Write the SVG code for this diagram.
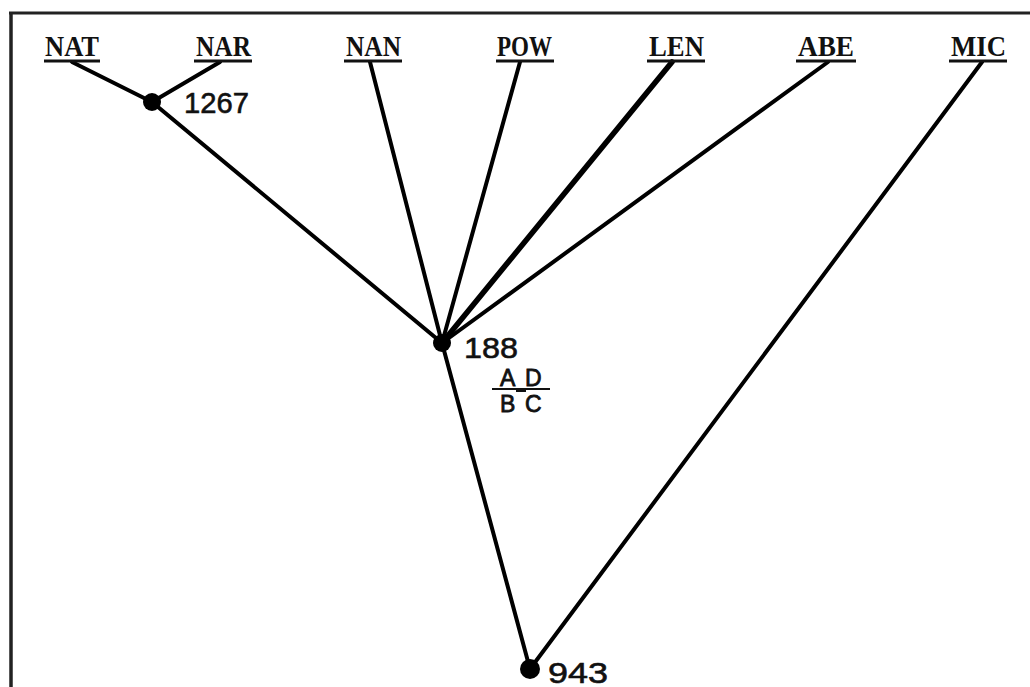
<svg xmlns="http://www.w3.org/2000/svg" width="1030" height="687" viewBox="0 0 1030 687">
<style>
.frame{stroke:#222;fill:none}
.edge{stroke:#000;stroke-width:4;stroke-linecap:round;fill:none}
.lbl{font-family:"Liberation Serif","Times New Roman",serif;font-weight:bold;font-size:30px;fill:#111}
.ul{stroke:#111;stroke-width:3}
.num{font-family:"Liberation Sans",Arial,sans-serif;font-size:30px;fill:#111;stroke:#111;stroke-width:0.6}
.let{font-family:"Liberation Sans",Arial,sans-serif;font-size:23px;fill:#111;stroke:#111;stroke-width:0.8}
.dot{fill:#000}
</style>
<rect width="1030" height="687" fill="#fff"/>
<g id="frame">
<line class="frame" x1="9" y1="13" x2="1030" y2="13" stroke-width="3"/>
<line class="frame" x1="11" y1="12" x2="11" y2="687" stroke-width="3.5"/>
</g>
<g id="connectors">
<line class="edge" x1="72" y1="62" x2="152" y2="102"/>
<line class="edge" x1="220" y1="62" x2="152" y2="102"/>
<line class="edge" x1="152" y1="102" x2="442" y2="343"/>
<line class="edge" x1="370" y1="62" x2="442" y2="343"/>
<line class="edge" x1="520" y1="62" x2="442" y2="343"/>
<line class="edge" x1="672" y1="62" x2="442" y2="343" style="stroke-width:5.5"/>
<line class="edge" x1="828" y1="62" x2="442" y2="343"/>
<line class="edge" x1="982" y1="62" x2="530" y2="669"/>
<line class="edge" x1="442" y1="343" x2="530" y2="669"/>
</g>
<g id="NAT"><text class="lbl" x="45" y="56" textLength="54" lengthAdjust="spacingAndGlyphs">NAT</text><line class="ul" x1="44" y1="61" x2="100" y2="61"/></g>
<g id="NAR"><text class="lbl" x="196" y="56" textLength="55" lengthAdjust="spacingAndGlyphs">NAR</text><line class="ul" x1="194" y1="61" x2="252" y2="61"/></g>
<g id="NAN"><text class="lbl" x="346" y="56" textLength="55" lengthAdjust="spacingAndGlyphs">NAN</text><line class="ul" x1="344" y1="61" x2="402" y2="61"/></g>
<g id="POW"><text class="lbl" x="497" y="56" textLength="55" lengthAdjust="spacingAndGlyphs">POW</text><line class="ul" x1="496" y1="61" x2="554" y2="61"/></g>
<g id="LEN"><text class="lbl" x="649" y="56" textLength="55" lengthAdjust="spacingAndGlyphs">LEN</text><line class="ul" x1="647" y1="61" x2="705" y2="61"/></g>
<g id="ABE"><text class="lbl" x="798" y="56" textLength="56" lengthAdjust="spacingAndGlyphs">ABE</text><line class="ul" x1="796" y1="61" x2="856" y2="61"/></g>
<g id="MIC"><text class="lbl" x="951" y="56" textLength="55" lengthAdjust="spacingAndGlyphs">MIC</text><line class="ul" x1="949" y1="61" x2="1007" y2="61"/></g>
<g id="n1267"><circle class="dot" cx="152" cy="102" r="9"/><text class="num" x="184" y="113" textLength="65" lengthAdjust="spacingAndGlyphs">1267</text></g>
<g id="n188"><circle class="dot" cx="442" cy="343" r="9"/><text class="num" x="464" y="358" textLength="54" lengthAdjust="spacingAndGlyphs">188</text>
<text class="let" x="500" y="386">A</text><text class="let" x="525" y="386">D</text>
<line x1="492" y1="389" x2="550" y2="389" stroke="#111" stroke-width="2"/>
<line x1="516" y1="390" x2="526" y2="390" stroke="#111" stroke-width="4"/>
<text class="let" x="500" y="412">B</text><text class="let" x="525" y="412">C</text></g>
<g id="n943"><circle class="dot" cx="530" cy="669" r="10"/><text class="num" x="548" y="683" textLength="60" lengthAdjust="spacingAndGlyphs">943</text></g>
</svg>
